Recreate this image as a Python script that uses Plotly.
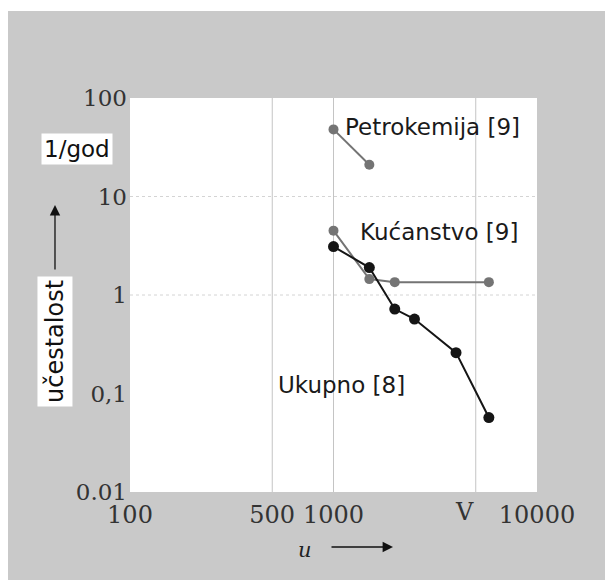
import math
import plotly.graph_objects as go

# Data
petro_x = [1000, 1500]
petro_y = [48, 21]
kuc_x = [1000, 1500, 2000, 5800]
kuc_y = [4.5, 1.45, 1.35, 1.35]
uk_x = [1000, 1500, 2000, 2500, 4000, 5800]
uk_y = [3.1, 1.9, 0.72, 0.57, 0.26, 0.057]

x_tickvals = [100, 500, 1000, 10000]
x_ticktext = ["100", "500", "1000", "10000"]
y_tickvals = [100, 10, 1, 0.1, 0.01]
y_ticktext = ["100", "10", "1", "0,1", "0.01"]
x_grid = [500, 1000, 5000]
y_grid = [10, 1]

GREY_BG = "#c9c9c9"
SERIES_GREY = "#747474"
SANS = "DejaVu Sans"
SERIF = "DejaVu Serif"

fig = go.Figure()
fig.add_trace(go.Scatter(x=petro_x, y=petro_y, mode="lines+markers",
                         line=dict(color=SERIES_GREY, width=2),
                         marker=dict(color=SERIES_GREY, size=10), name="Petrokemija [9]"))
fig.add_trace(go.Scatter(x=kuc_x, y=kuc_y, mode="lines+markers",
                         line=dict(color=SERIES_GREY, width=2),
                         marker=dict(color=SERIES_GREY, size=10), name="Kućanstvo [9]"))
fig.add_trace(go.Scatter(x=uk_x, y=uk_y, mode="lines+markers",
                         line=dict(color="#151515", width=2),
                         marker=dict(color="#151515", size=11), name="Ukupno [8]"))

shapes = [
    # thin white strip at top of the scan
    dict(type="rect", xref="paper", yref="paper", x0=-0.35, x1=1.25, y0=1.2208, y1=1.30,
         fillcolor="white", line=dict(width=0), layer="below"),
]
for gx in x_grid:
    shapes.append(dict(type="line", xref="x", yref="paper", x0=gx, x1=gx, y0=0, y1=1,
                       line=dict(color="#c4c4c4", width=1), layer="below"))
for gy in y_grid:
    shapes.append(dict(type="line", xref="paper", yref="y", x0=0, x1=1, y0=gy, y1=gy,
                       line=dict(color="#d4d4d4", width=1, dash="dot"), layer="below"))

L = math.log10
lab_font = dict(family=SANS, size=23, color="#1a1a1a")
annotations = [
    dict(x=L(1114), y=L(50.8), xref="x", yref="y", text="Petrokemija [9]", showarrow=False,
         xanchor="left", yanchor="middle", font=lab_font),
    dict(x=L(1318), y=L(4.37), xref="x", yref="y", text="Kućanstvo [9]", showarrow=False,
         xanchor="left", yanchor="middle", font=lab_font),
    dict(x=L(521), y=L(0.122), xref="x", yref="y", text="Ukupno [8]", showarrow=False,
         xanchor="left", yanchor="middle", font=lab_font),
    # y axis unit and title
    dict(x=-0.1302, y=0.8706, xref="paper", yref="paper", text="1/god", showarrow=False,
         xanchor="center", yanchor="middle",
         bgcolor="white", borderpad=2, font=dict(family=SANS, size=23, color="#111")),
    dict(x=-0.1843, y=0.3832, xref="paper", yref="paper", text="učestalost", showarrow=False,
         xanchor="center", yanchor="middle",
         textangle=-90, bgcolor="white", borderpad=3, font=dict(family=SANS, size=24, color="#111")),
    dict(x=-0.1843, y=0.7284, xref="paper", yref="paper", text="", showarrow=True,
         ax=0, ay=66, arrowhead=2, arrowsize=1.6, arrowwidth=1.3, arrowcolor="#111"),
    # x axis title and unit
    dict(x=0.43, y=-0.147, xref="paper", yref="paper", text="<i>u</i>", showarrow=False,
         xanchor="center", yanchor="middle", font=dict(family=SERIF, size=21, color="#222")),
    dict(x=0.6462, y=-0.1396, xref="paper", yref="paper", text="", showarrow=True,
         ax=-63, ay=0, arrowhead=2, arrowsize=1.6, arrowwidth=1.3, arrowcolor="#111"),
    dict(x=0.823, y=-0.0508, xref="paper", yref="paper", text="V", showarrow=False,
         xanchor="center", yanchor="middle", font=dict(family=SERIF, size=24, color="#333")),
]

fig.update_layout(
    width=613, height=580,
    margin=dict(l=122, r=84, t=90, b=96),
    paper_bgcolor=GREY_BG, plot_bgcolor="white",
    showlegend=False,
    shapes=shapes, annotations=annotations,
)
fig.update_xaxes(type="log", range=[2, 4], tickmode="array",
                 tickvals=x_tickvals, ticktext=x_ticktext, showgrid=False, zeroline=False,
                 showline=False, ticks="", ticklabelstandoff=6,
                 tickfont=dict(family=SERIF, size=24, color="#333"))
fig.update_yaxes(type="log", range=[-2, 2], tickmode="array",
                 tickvals=y_tickvals, ticktext=y_ticktext, showgrid=False, zeroline=False,
                 showline=False, ticks="", ticklabelstandoff=2,
                 tickfont=dict(family=SERIF, size=23, color="#333"))

fig.write_html("out.html")
